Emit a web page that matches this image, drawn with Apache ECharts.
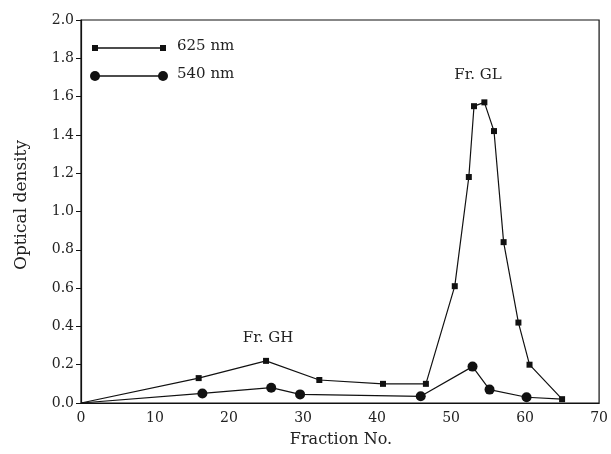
<!DOCTYPE html>
<html>
<head>
<meta charset="utf-8">
<script src="https://cdn.jsdelivr.net/npm/echarts@6/dist/echarts.min.js"></script>
<style>html,body{margin:0;padding:0;background:#fff}#c{width:611px;height:454px}</style>
</head>
<body>
<div id="c"></div>
<script>
// Fraction numbers and optical densities
var x625 = [0, 15.9, 25.0, 32.2, 40.8, 46.6, 50.5, 52.4, 53.1, 54.5, 55.8, 57.1, 59.1, 60.6, 65.0];
var y625 = [0, 0.13, 0.22, 0.12, 0.10, 0.10, 0.61, 1.18, 1.55, 1.57, 1.42, 0.84, 0.42, 0.20, 0.02];
var x540 = [0, 16.4, 25.7, 29.6, 45.9, 52.9, 55.2, 60.2, 65.0];
var y540 = [0, 0.05, 0.08, 0.045, 0.035, 0.19, 0.07, 0.03, 0.02];
var seriesNames = ['625 nm', '540 nm'];
var annotations = ['Fr. GH', 'Fr. GL'];
var xTitle = 'Fraction No.';
var yTitle = 'Optical density';

function pairs(xs, ys, hideEnds) {
  return xs.map(function (v, i) {
    var item = {value: [v, ys[i]]};
    if (i === 0 || (hideEnds && i === xs.length - 1)) { item.symbol = 'none'; }
    return item;
  });
}

var FONT = 'DejaVu Serif';
var INK = '#111';
var chart = echarts.init(document.getElementById('c'), null, {renderer: 'canvas'});
chart.setOption({
  animation: false,
  backgroundColor: '#fff',
  grid: {left: 81, right: 9, top: 20, bottom: 51, show: true, borderColor: INK, borderWidth: 1.2},
  xAxis: {
    type: 'value', min: 0, max: 70, interval: 10,
    axisLine: {show: true, onZero: false, lineStyle: {color: INK, width: 1.2}},
    axisTick: {show: false},
    splitLine: {show: false},
    axisLabel: {color: '#222', fontFamily: FONT, fontSize: 14, margin: 8}
  },
  yAxis: {
    type: 'value', min: 0, max: 2.0, interval: 0.2,
    axisLine: {show: true, lineStyle: {color: INK, width: 1.2}},
    axisTick: {show: true, inside: false, length: 5, lineStyle: {color: INK}},
    splitLine: {show: false},
    axisLabel: {color: '#222', fontFamily: FONT, fontSize: 14, margin: 7,
      formatter: function (v) { return v.toFixed(1); }}
  },
  series: [
    {name: seriesNames[0], type: 'line', data: pairs(x625, y625, false),
     symbol: 'rect', symbolSize: 6, showAllSymbol: true,
     lineStyle: {color: INK, width: 1.2}, itemStyle: {color: INK}},
    {name: seriesNames[1], type: 'line', data: pairs(x540, y540, true),
     symbol: 'circle', symbolSize: 10, showAllSymbol: true,
     lineStyle: {color: INK, width: 1.2}, itemStyle: {color: INK}}
  ],
  graphic: [
    {type: 'line', shape: {x1: 95, y1: 48, x2: 163, y2: 48}, style: {stroke: INK, lineWidth: 1.4}},
    {type: 'rect', shape: {x: 92, y: 45, width: 6, height: 6}, style: {fill: INK}},
    {type: 'rect', shape: {x: 160, y: 45, width: 6, height: 6}, style: {fill: INK}},
    {type: 'text', left: 177, top: 39, style: {text: seriesNames[0], font: '15px "DejaVu Serif"', fill: '#222'}},
    {type: 'line', shape: {x1: 95, y1: 76, x2: 163, y2: 76}, style: {stroke: INK, lineWidth: 1.4}},
    {type: 'circle', shape: {cx: 95, cy: 76, r: 5}, style: {fill: INK}},
    {type: 'circle', shape: {cx: 163, cy: 76, r: 5}, style: {fill: INK}},
    {type: 'text', left: 177, top: 67, style: {text: seriesNames[1], font: '15px "DejaVu Serif"', fill: '#222'}},
    {type: 'text', x: 268, y: 338, style: {text: annotations[0], font: '15px "DejaVu Serif"', fill: '#222', align: 'center', verticalAlign: 'middle'}},
    {type: 'text', x: 478, y: 75, style: {text: annotations[1], font: '15px "DejaVu Serif"', fill: '#222', align: 'center', verticalAlign: 'middle'}},
    {type: 'text', x: 341, y: 440, style: {text: xTitle, font: '16px "DejaVu Serif"', fill: '#222', align: 'center', verticalAlign: 'middle'}},
    {type: 'text', x: 22, y: 205, rotation: Math.PI / 2, style: {text: yTitle, font: '17px "DejaVu Serif"', fill: '#222', align: 'center', verticalAlign: 'middle'}}
  ]
});
</script>
</body>
</html>
